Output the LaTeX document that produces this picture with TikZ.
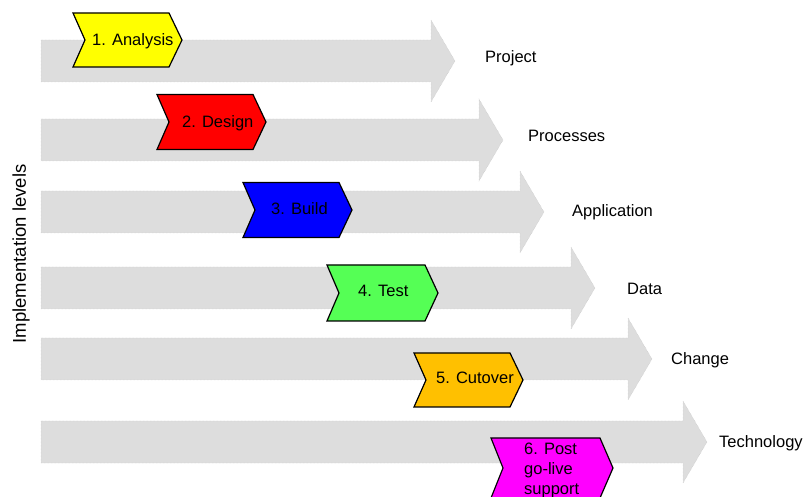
\documentclass[tikz,border=0pt]{standalone}
\usepackage{fontspec}
\setmainfont{Liberation Sans}

\definecolor{levelgray}{RGB}{221,221,221}
\definecolor{levelline}{RGB}{190,190,190}
\definecolor{phaseyellow}{RGB}{255,255,0}
\definecolor{phasered}{RGB}{255,0,0}
\definecolor{phaseblue}{RGB}{0,0,255}
\definecolor{phasegreen}{RGB}{85,255,85}
\definecolor{phaseorange}{RGB}{255,192,0}
\definecolor{phasemagenta}{RGB}{255,0,255}

\begin{document}
\begin{tikzpicture}[x=1pt, y=-1pt, font=\fontsize{16.5}{20}\selectfont]

        \useasboundingbox (0, 0) rectangle (807, 497);
        \clip (0, 0) rectangle (807, 497);

        % levels: number / centre y / head x / baseline / label x / label
        \foreach \i/\y/\x/\b/\lx/\name in {1/61/431/63/485/Project, 2/140/479/142/528/Processes, 3/212/520/217/572/Application, 4/288/571/295/627/Data, 5/359/628/365/671/Change, 6/442/683/447/719/Technology} {
            \filldraw[levelgray, draw=levelline, densely dotted, line width=0.4pt] (41, \y-21) -- (\x, \y-21) -- (\x, \y-41) -- (\x+24, \y) -- (\x, \y+41) -- (\x, \y+21) -- (41, \y+21) -- cycle;
            \node[anchor=base west, inner sep=0pt] (level\i) at (\lx, \b) {\name};
        }

        % phases: number / left x / centre y / half height / width / colour
        \foreach \i/\x/\y/\h/\w/\c in {1/73/40/27/109/phaseyellow, 2/157/122/27.5/109/phasered, 3/243/210/27.5/109/phaseblue, 4/327/293/28/111/phasegreen, 5/414/380/27/109/phaseorange, 6/491/468/30/122/phasemagenta} {
            \filldraw[fill=\c, draw=black, line width=1.2pt, line join=miter] (\x, \y-\h) -- (\x+\w-13, \y-\h) -- (\x+\w, \y) -- (\x+\w-13, \y+\h) -- (\x, \y+\h) -- (\x+12, \y) -- cycle;
        }

        \node[anchor=base west, inner sep=0pt] (phase1) at (92, 46) {1. Analysis};
        \node[anchor=base west, inner sep=0pt] (phase2) at (182, 128) {2. Design};
        \node[anchor=base west, inner sep=0pt] (phase3) at (271, 215) {3. Build};
        \node[anchor=base west, inner sep=0pt] (phase4) at (358, 297) {4. Test};
        \node[anchor=base west, inner sep=0pt] (phase5) at (436, 384) {5. Cutover};
        \node[anchor=base west, inner sep=0pt, align=left] (phase6) at (524, 494) {6. Post\\go-live\\support};

        \node[rotate=90, font=\fontsize{18.5}{22}\selectfont] (levels) at (21, 254) {Implementation levels};

\end{tikzpicture}
\end{document}
